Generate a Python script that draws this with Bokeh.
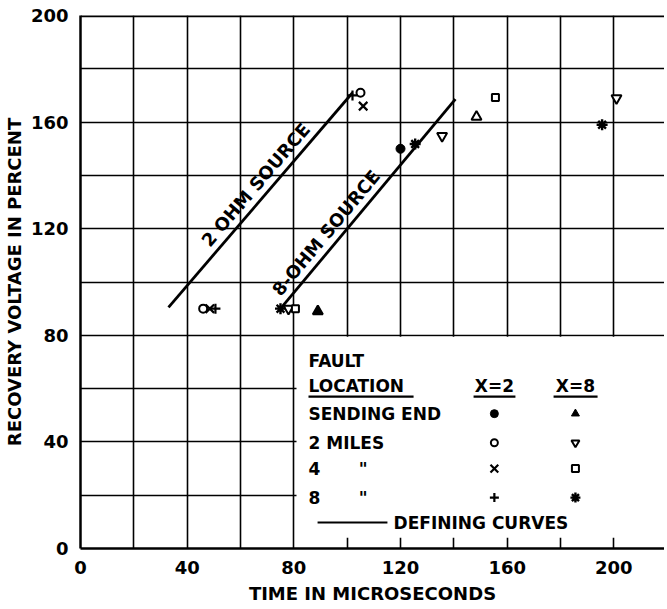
import math
from bokeh.plotting import figure
from bokeh.models import Range1d, SingleIntervalTicker, FixedTicker, Span
from bokeh.core.properties import value
from bokeh.embed import file_html
from bokeh.resources import INLINE

# ---------------- data (time in microseconds, recovery voltage in percent) ----
x2_send_t = [120]
x2_send_v = [150]
x2_2mi_t = [46, 105]
x2_2mi_v = [90, 171]
x2_4mi_t = [48.5, 106]
x2_4mi_v = [90, 166]
x2_8mi_t = [50.6, 102]
x2_8mi_v = [90, 170]

x8_send_t = [89, 148.5]
x8_send_v = [89, 162]
x8_2mi_t = [78, 135.6, 201]
x8_2mi_v = [90, 154.8, 169]
x8_4mi_t = [80.6, 155.6]
x8_4mi_v = [90, 169.2]
x8_8mi_t = [75, 125.5, 195.6]
x8_8mi_v = [90, 151.8, 159]

curve_2ohm_t = [33, 102]
curve_2ohm_v = [90.5, 171]
curve_8ohm_t = [75, 140.6]
curve_8ohm_v = [90, 168.6]

x_ticks = [0, 40, 80, 120, 160, 200]
y_ticks = [0, 40, 80, 120, 160, 200]

FONT = value("DejaVu Sans")

p = figure(width=664, height=606, x_range=Range1d(0, 219), y_range=Range1d(0, 200),
           output_backend="svg", toolbar_location=None,
           min_border_left=78, min_border_top=15, min_border_bottom=58, min_border_right=0)
p.outline_line_color = None
p.background_fill_color = "white"
p.border_fill_color = "white"

for g in (p.xgrid[0], p.ygrid[0]):
    g.ticker = SingleIntervalTicker(interval=20)
    g.grid_line_color = "black"
    g.grid_line_width = 1.6
    g.grid_line_alpha = 1.0

for ax, ticks in ((p.xaxis[0], x_ticks), (p.yaxis[0], y_ticks)):
    ax.ticker = FixedTicker(ticks=ticks)
    ax.major_tick_line_color = None
    ax.minor_tick_line_color = None
    ax.axis_line_color = "black"
    ax.axis_line_width = 2.5
    ax.major_label_text_font = "DejaVu Sans"
    ax.major_label_text_font_style = "bold"
    ax.major_label_text_font_size = "18px"
    ax.major_label_text_color = "black"
    ax.axis_label_text_font = "DejaVu Sans"
    ax.axis_label_text_font_style = "bold"
    ax.axis_label_text_font_size = "18px"
    ax.axis_label_text_color = "black"

p.xaxis.axis_label = "TIME IN MICROSECONDS"
p.yaxis.axis_label = "RECOVERY VOLTAGE IN PERCENT"
p.xaxis.major_label_standoff = 6
p.yaxis.major_label_standoff = 6
p.xaxis.axis_label_standoff = 6
p.yaxis.axis_label_standoff = 3

# heavy top border
p.add_layout(Span(location=200, dimension="width", line_color="black", line_width=3.5))

# defining curves
p.line(curve_2ohm_t, curve_2ohm_v, line_color="black", line_width=2.8)
p.line(curve_8ohm_t, curve_8ohm_v, line_color="black", line_width=2.8)


def along(ts, vs, frac, off):
    a = math.atan2(vs[1] - vs[0], ts[1] - ts[0])
    t = ts[0] + frac * (ts[1] - ts[0]) - off * math.sin(a)
    v = vs[0] + frac * (vs[1] - vs[0]) + off * math.cos(a)
    return t, v, a

for ts, vs, frac, txt in ((curve_2ohm_t, curve_2ohm_v, 0.53, "2 OHM SOURCE"),
                          (curve_8ohm_t, curve_8ohm_v, 0.32, "8-OHM SOURCE")):
    t, v, a = along(ts, vs, frac, 1.2)
    p.text(x=[t], y=[v], text=[txt], angle=a, text_align="center", text_baseline="bottom",
           text_font=FONT, text_font_style="bold", text_font_size="18px", text_color="black")

# data points
MS = 9
p.scatter(x2_send_t, x2_send_v, marker="circle", size=MS, fill_color="black", line_color="black")
p.scatter(x2_2mi_t, x2_2mi_v, marker="circle", size=MS - 1, fill_color="white", line_color="black", line_width=2)
p.scatter(x2_4mi_t, x2_4mi_v, marker="x", size=MS + 3, line_color="black", line_width=2.2)
p.scatter(x2_8mi_t, x2_8mi_v, marker="cross", size=MS + 1, line_color="black", line_width=2.2)
p.scatter(x8_send_t, x8_send_v, marker="triangle", size=MS + 1,
          fill_color=["black", "white"], line_color="black", line_width=2)
p.scatter(x8_2mi_t, x8_2mi_v, marker="inverted_triangle", size=MS + 1, fill_color="white",
          line_color="black", line_width=2)
p.scatter(x8_4mi_t, x8_4mi_v, marker="square", size=MS - 2, fill_color="white", line_color="black", line_width=2)
p.scatter(x8_8mi_t, x8_8mi_v, marker="asterisk", size=MS + 2, line_color="black", line_width=2.4)

# ---------------- legend box ----------------
p.quad(left=[81], right=[219], bottom=[4], top=[79.5], fill_color="white", line_color=None)

lg_left = 85.5
col2 = 155.2
col8 = 185.6
rows = [50.6, 39.7, 30.0, 19.1]

def txt(x, y, s, align="left"):
    p.text(x=[x], y=[y], text=[s], text_align=align, text_baseline="middle",
           text_font=FONT, text_font_style="bold", text_font_size="17px", text_color="black")

txt(lg_left, 70.5, "FAULT")
txt(lg_left, 61.1, "LOCATION")
txt(col2, 61.1, "X=2", "center")
txt(col8, 61.1, "X=8", "center")
p.segment(x0=[lg_left, 147.4, 177.4], y0=[57, 57, 57], x1=[124.9, 163.1, 193.9], y1=[57, 57, 57],
          line_color="black", line_width=2.2)
txt(lg_left, rows[0], "SENDING END")
txt(lg_left, rows[1], "2 MILES")
txt(lg_left, rows[2], "4")
txt(lg_left, rows[3], "8")
txt(106, rows[2], "\"", "center")
txt(106, rows[3], "\"", "center")

p.scatter([col2], [rows[0]], marker="circle", size=MS - 1, fill_color="black", line_color="black")
p.scatter([col2], [rows[1]], marker="circle", size=MS - 2, fill_color="white", line_color="black", line_width=2)
p.scatter([col2], [rows[2]], marker="x", size=MS + 2, line_color="black", line_width=2.2)
p.scatter([col2], [rows[3]], marker="cross", size=MS, line_color="black", line_width=2.2)
p.scatter([col8], [rows[0]], marker="triangle", size=MS - 1, fill_color="black", line_color="black")
p.scatter([col8], [rows[1]], marker="inverted_triangle", size=MS - 1, fill_color="white", line_color="black", line_width=2)
p.scatter([col8], [rows[2]], marker="square", size=MS - 2, fill_color="white", line_color="black", line_width=2)
p.scatter([col8], [rows[3]], marker="asterisk", size=MS + 1, line_color="black", line_width=2.4)

p.segment(x0=[88.9], y0=[9.75], x1=[115.1], y1=[9.75], line_color="black", line_width=2)
txt(117.4, 9.75, "DEFINING CURVES")

open("out.html", "w").write(file_html(p, INLINE))
